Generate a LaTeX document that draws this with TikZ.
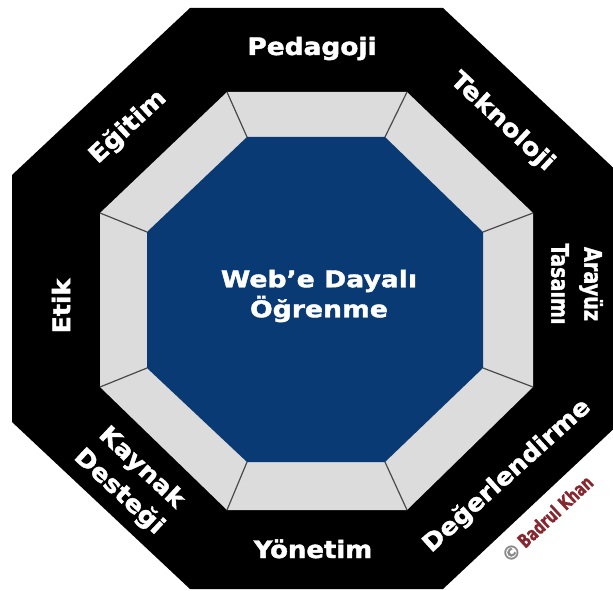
\documentclass[tikz,border=0pt]{standalone}
\usepackage{fontspec}
\setmainfont{DejaVu Sans}
\newfontfamily\heavy[FakeBold=1.6]{DejaVu Sans Bold}
\newfontfamily\wmfont[FakeBold=1.2]{DejaVu Sans Bold}
\usepackage{graphicx}
\definecolor{wblue}{HTML}{0A3A73}
\definecolor{ringgrey}{HTML}{DCDCDC}
\definecolor{divline}{HTML}{4A4A4A}
\definecolor{wmred}{HTML}{86262E}
\definecolor{wmgrey}{HTML}{8A8A8A}
\newcommand{\sx}[2]{\scalebox{#1}[1]{#2}}
\begin{document}
\begin{tikzpicture}[x=1pt,y=-1pt,
  lbl/.style={text=white,font=\heavy\fontsize{24}{33}\selectfont,inner sep=0pt,align=center},
  divider/.style={draw=divline,line width=1.2pt}]
\useasboundingbox (0,0) rectangle (613,591);
\clip (0,0) rectangle (613,591);
\fill[white] (0,0) rectangle (613,591);
% outer black octagon
\fill[black] (190,8) -- (443,8) -- (621,175) -- (621,422) -- (443,589) -- (190,589) -- (12,422) -- (12,175) -- cycle;
% grey ring
\coordinate (g1) at (227,92);  \coordinate (g2) at (407,92);
\coordinate (g3) at (533,213); \coordinate (g4) at (533,387);
\coordinate (g5) at (407,510); \coordinate (g6) at (227,510);
\coordinate (g7) at (100,387); \coordinate (g8) at (100,213);
\coordinate (b1) at (247,137); \coordinate (b2) at (385,137);
\coordinate (b3) at (483,232); \coordinate (b4) at (483,368);
\coordinate (b5) at (385,462); \coordinate (b6) at (247,462);
\coordinate (b7) at (147,368); \coordinate (b8) at (147,232);
\fill[ringgrey] (g1) -- (g2) -- (g3) -- (g4) -- (g5) -- (g6) -- (g7) -- (g8) -- cycle;
\fill[wblue] (b1) -- (b2) -- (b3) -- (b4) -- (b5) -- (b6) -- (b7) -- (b8) -- cycle;
\foreach \i in {1,...,8} {\draw[divider] (g\i) -- (b\i);}
% labels
\node[lbl,anchor=base] (ped) at (312,55) {\sx{1.1}{Pedagoji}};
\node[lbl,rotate=-43] (tek) at (502,122) {\sx{1.1}{Teknoloji}};
\node[lbl,rotate=-90] (ara) at (577,284) {\sx{0.8}{Arayüz}\\\sx{0.8}{Tasaımı}};
\node[lbl,rotate=42] (deg) at (507,476) {\sx{1.07}{Değerlendirme}};
\node[lbl,anchor=base] (yon) at (313,558) {\sx{1.08}{Yönetim}};
\node[lbl,rotate=-43] (kay) at (130,480) {\sx{1.08}{Kaynak}\\\sx{1.09}{Desteği}};
\node[lbl,rotate=90] (etik) at (61,306) {\sx{1.05}{Etik}};
\node[lbl,rotate=43] (egi) at (128,127) {\sx{1.1}{Eğitim}};
\node[lbl,font=\heavy\fontsize{23}{30}\selectfont] (web) at (319,296) {\sx{1.16}{Web’e Dayalı}\\\sx{1.16}{Öğrenme}};
% watermark
\node[rotate=43,inner sep=0pt,font=\wmfont\fontsize{19}{19}\selectfont] (wm) at (547,519)
  {\textcolor{wmgrey}{©}\,\sx{0.72}{\textcolor{wmred}{Badrul Khan}}};
\end{tikzpicture}
\end{document}
